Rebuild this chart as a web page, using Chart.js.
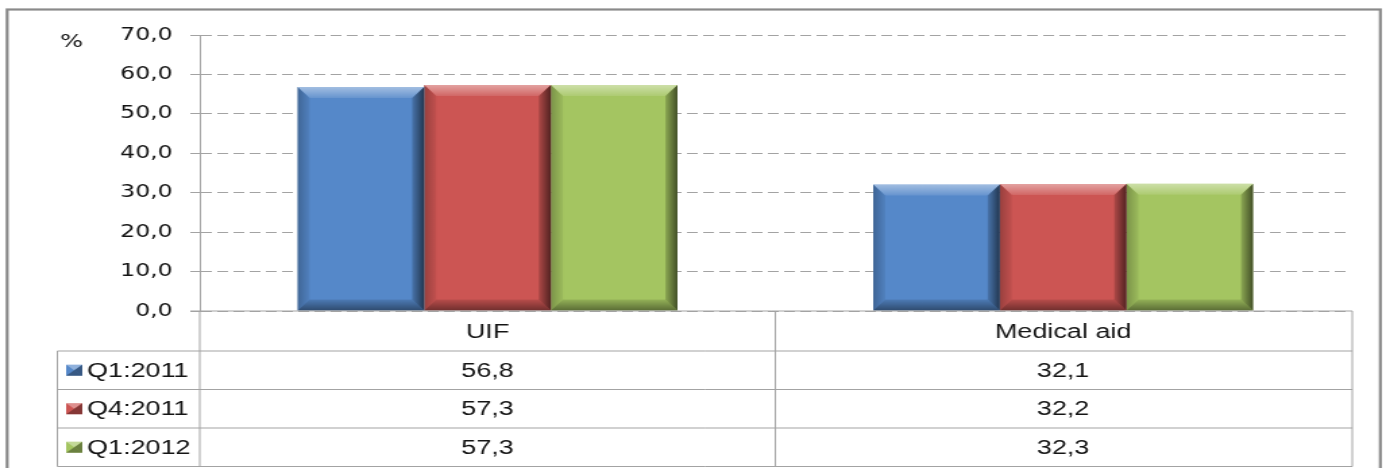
<!DOCTYPE html>
<html>
<head>
<meta charset="utf-8">
<script src="https://cdn.jsdelivr.net/npm/chart.js@4.4.1/dist/chart.umd.min.js"></script>
<style>
  html, body { margin: 0; padding: 0; background: #fff; overflow: hidden; }
  #wrap { width: 1386px; height: 468px; }
  #stretch { transform-origin: 0 0; }
</style>
</head>
<body>
<div id="wrap"><div id="stretch"><canvas id="chart" width="1027" height="468"></canvas></div></div>
<script>
const categories = ["UIF", "Medical aid"];
const seriesNames = ["Q1:2011", "Q4:2011", "Q1:2012"];
const q1_2011 = [56.8, 32.1];
const q4_2011 = [57.3, 32.2];
const q1_2012 = [57.3, 32.3];
const tableValues = [["56,8", "32,1"], ["57,3", "32,2"], ["57,3", "32,3"]];
const yTickLabels = ["0,0", "10,0", "20,0", "30,0", "40,0", "50,0", "60,0", "70,0"];
const seriesColors = ["#5588c9", "#cc5553", "#a4c561"];

// the source picture is stretched sideways, so draw narrow and scale the whole canvas
const W = 1027;
const stretch = 1386 / W;
document.getElementById("stretch").style.transform = `scaleX(${stretch})`;

const gridGray = "#a3a3a3";
const textColor = "#141414";
const tableFont = "20px 'Liberation Sans', Arial, sans-serif";

// bevel look of the old Excel bars
const bevelPlugin = {
    id: "bevel",
    afterDatasetsDraw(chart) {
        const ctx = chart.ctx;
        chart.data.datasets.forEach((ds, i) => {
            chart.getDatasetMeta(i).data.forEach(bar => {
                const l = bar.x - bar.width / 2, r = bar.x + bar.width / 2;
                const t = bar.y, b = bar.base;
                const bx = 9, by = 11;
                ctx.save();
                // top
                let g = ctx.createLinearGradient(0, t, 0, t + by);
                g.addColorStop(0, "rgba(255,255,255,0.45)");
                g.addColorStop(1, "rgba(255,255,255,0.1)");
                ctx.fillStyle = g;
                ctx.beginPath();
                ctx.moveTo(l, t); ctx.lineTo(r, t); ctx.lineTo(r - bx, t + by); ctx.lineTo(l + bx, t + by);
                ctx.closePath(); ctx.fill();
                // left
                g = ctx.createLinearGradient(l, 0, l + bx, 0);
                g.addColorStop(0, "rgba(0,0,0,0.25)");
                g.addColorStop(1, "rgba(0,0,0,0.05)");
                ctx.fillStyle = g;
                ctx.beginPath();
                ctx.moveTo(l, t); ctx.lineTo(l + bx, t + by); ctx.lineTo(l + bx, b - by); ctx.lineTo(l, b);
                ctx.closePath(); ctx.fill();
                // right
                g = ctx.createLinearGradient(r - bx, 0, r, 0);
                g.addColorStop(0, "rgba(0,0,0,0.15)");
                g.addColorStop(1, "rgba(0,0,0,0.6)");
                ctx.fillStyle = g;
                ctx.beginPath();
                ctx.moveTo(r, t); ctx.lineTo(r, b); ctx.lineTo(r - bx, b - by); ctx.lineTo(r - bx, t + by);
                ctx.closePath(); ctx.fill();
                // bottom
                g = ctx.createLinearGradient(0, b - by, 0, b);
                g.addColorStop(0, "rgba(0,0,0,0.1)");
                g.addColorStop(1, "rgba(0,0,0,0.45)");
                ctx.fillStyle = g;
                ctx.beginPath();
                ctx.moveTo(l, b); ctx.lineTo(l + bx, b - by); ctx.lineTo(r - bx, b - by); ctx.lineTo(r, b);
                ctx.closePath(); ctx.fill();
                ctx.restore();
            });
        });
    }
};

function drawKey(ctx, x, y, color) {
    const w = 12, h = 11;
    ctx.save();
    ctx.fillStyle = color;
    ctx.fillRect(x, y - h / 2, w, h);
    ctx.fillStyle = "rgba(255,255,255,0.35)";
    ctx.beginPath();
    ctx.moveTo(x, y - h / 2); ctx.lineTo(x + w, y - h / 2); ctx.lineTo(x + w / 2, y); ctx.closePath(); ctx.fill();
    ctx.fillStyle = "rgba(0,0,0,0.35)";
    ctx.beginPath();
    ctx.moveTo(x + w, y - h / 2); ctx.lineTo(x + w, y + h / 2); ctx.lineTo(x + w / 2, y); ctx.closePath(); ctx.fill();
    ctx.beginPath();
    ctx.moveTo(x, y + h / 2); ctx.lineTo(x + w, y + h / 2); ctx.lineTo(x + w / 2, y); ctx.closePath(); ctx.fill();
    ctx.restore();
}

// frame, "%" label and the data table under the plot
const tablePlugin = {
    id: "dataTable",
    beforeDraw(chart) {
        const ctx = chart.ctx;
        ctx.save();
        ctx.fillStyle = "#fff";
        ctx.fillRect(0, 0, chart.width, chart.height);
        ctx.strokeStyle = "#8a8a8a";
        ctx.lineWidth = 2.2;
        ctx.strokeRect(5.3, 9.5, 1017.5, 480);
        ctx.restore();
    },
    afterDraw(chart) {
        const ctx = chart.ctx;
        const xs = chart.scales.x;
        const area = chart.chartArea;
        const left = area.left, right = area.right + 1;
        const mid = (xs.getPixelForValue(0) + xs.getPixelForValue(1)) / 2;
        const tableLeft = 42.5;
        const y0 = area.bottom;
        const rows = [y0, y0 + 40, y0 + 78.5, y0 + 117, y0 + 155.5];

        ctx.save();
        ctx.strokeStyle = gridGray;
        ctx.lineWidth = 1;
        ctx.beginPath();
        ctx.moveTo(left - 7, y0); ctx.lineTo(right, y0);
        for (let i = 1; i < rows.length; i++) {
            ctx.moveTo(tableLeft, rows[i]); ctx.lineTo(right, rows[i]);
        }
        ctx.moveTo(left, y0); ctx.lineTo(left, rows[4]);
        ctx.moveTo(mid, y0); ctx.lineTo(mid, rows[4]);
        ctx.moveTo(right, y0); ctx.lineTo(right, rows[4]);
        ctx.moveTo(tableLeft, rows[1]); ctx.lineTo(tableLeft, rows[4]);
        ctx.stroke();

        ctx.fillStyle = textColor;
        ctx.font = tableFont;
        ctx.textAlign = "center";
        ctx.textBaseline = "middle";
        categories.forEach((c, j) => {
            ctx.fillText(c, xs.getPixelForValue(j), (rows[0] + rows[1]) / 2 + 1);
        });
        seriesNames.forEach((name, i) => {
            const cy = (rows[i + 1] + rows[i + 2]) / 2 + 1;
            tableValues[i].forEach((v, j) => {
                ctx.textAlign = "center";
                ctx.fillText(v, xs.getPixelForValue(j), cy);
            });
            drawKey(ctx, 49, cy - 1, seriesColors[i]);
            ctx.textAlign = "left";
            ctx.fillText(name, 64.5, cy);
        });

        ctx.font = "18px 'DejaVu Sans', sans-serif";
        ctx.textAlign = "center";
        ctx.fillText("%", 53, 42);
        ctx.restore();
    }
};

new Chart(document.getElementById("chart"), {
    type: "bar",
    data: {
        labels: categories,
        datasets: [q1_2011, q4_2011, q1_2012].map((values, i) => ({
            label: seriesNames[i],
            data: values,
            backgroundColor: seriesColors[i],
            borderWidth: 0,
            categoryPercentage: 0.66,
            barPercentage: 1.0
        }))
    },
    options: {
        responsive: false,
        animation: false,
        devicePixelRatio: 1,
        layout: { padding: { top: 35, right: 26, left: 0, bottom: 0 } },
        plugins: {
            legend: { display: false },
            tooltip: { enabled: false }
        },
        scales: {
            x: {
                grid: { display: false },
                border: { display: false },
                ticks: { display: false },
                afterFit(scale) { scale.height = 157; }
            },
            y: {
                min: 0,
                max: 70,
                ticks: {
                    stepSize: 10,
                    padding: 13,
                    color: textColor,
                    font: { family: "'DejaVu Sans', sans-serif", size: 17.5 },
                    callback: (v, i) => yTickLabels[i]
                },
                grid: { color: gridGray, tickLength: 7, tickColor: gridGray },
                border: { display: true, color: gridGray, dash: [8, 4] },
                afterFit(scale) { scale.width = 148; }
            }
        }
    },
    plugins: [tablePlugin, bevelPlugin]
});
</script>
</body>
</html>
